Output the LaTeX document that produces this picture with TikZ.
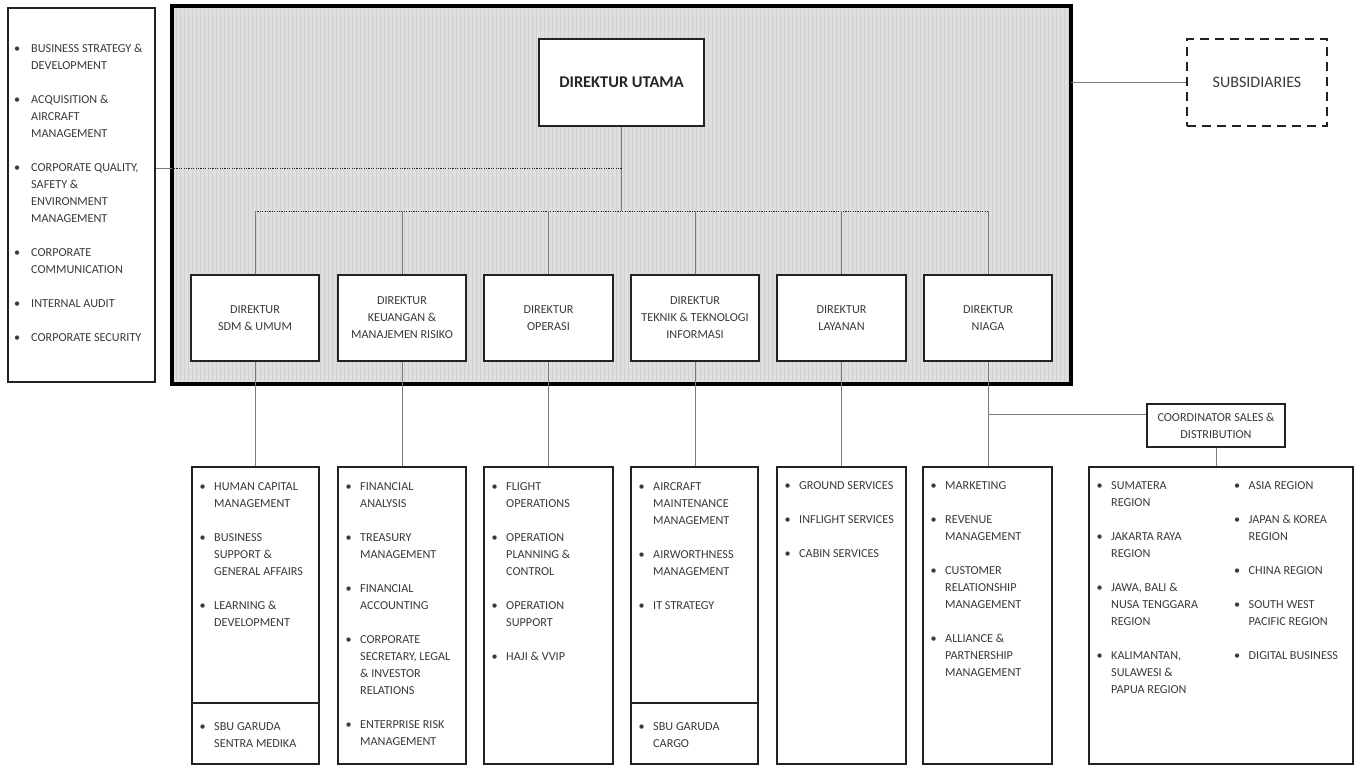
\documentclass[tikz,border=0pt]{standalone}
\usepackage{fontspec}
\setmainfont{Carlito}
\definecolor{txt}{HTML}{3A3A3A}
\definecolor{ln}{HTML}{7A7A7A}
\definecolor{bd}{HTML}{222222}
\definecolor{shade}{HTML}{DFDFDF}
\definecolor{stripe}{HTML}{D0D0D0}
\newcommand{\bu}{\makebox[14.5pt][l]{\textbullet}}
\newcommand{\bul}{\makebox[17pt][l]{\textbullet}}
\tikzset{
  box/.style={draw=bd, line width=1.2pt, fill=white, rectangle, inner sep=0pt, text=txt,
    font=\fontsize{12.2}{17}\selectfont, align=center},
  listbox/.style={draw=bd, line width=1.2pt, fill=white, rectangle, inner sep=0pt},
  conn/.style={draw=ln, line width=0.9pt},
  dotline/.style={draw=black!85, line width=1pt, dash pattern=on 1.2pt off 1.2pt},
  listtxt/.style={anchor=base west, inner sep=0pt, text=txt, font=\fontsize{12.2}{17}\selectfont},
}
\begin{document}
\begin{tikzpicture}[x=1pt,y=-1pt]
\useasboundingbox (0,0) rectangle (1362,766);
\fill[white] (0,0) rectangle (1362,766);

% main shaded box
\node[draw=black, line width=2.8pt, fill=shade, minimum width=897, minimum height=376, inner sep=0pt] (mb) at (621.5,195) {};
\begin{scope}
\clip (mb.south west) rectangle (mb.north east);
\foreach \x in {176,180,...,1068}{\draw[stripe, line width=0.5pt] (\x,9) -- (\x,381);}
\end{scope}
\draw[black, line width=2.8pt] (mb.south west) rectangle (mb.north east);
% left staff box
\node[listbox, line width=1.4pt, minimum width=147, minimum height=374] (lb) at (81.5,195) {};
\node[listtxt] (lbt) at (14,52.5) {\begin{tabular}[t]{@{}l@{}l@{}}
\bul & BUSINESS STRATEGY \&\\ & DEVELOPMENT\\[17pt]
\bul & ACQUISITION \&\\ & AIRCRAFT\\ & MANAGEMENT\\[17pt]
\bul & CORPORATE QUALITY,\\ & SAFETY \&\\ & ENVIRONMENT\\ & MANAGEMENT\\[17pt]
\bul & CORPORATE\\ & COMMUNICATION\\[17pt]
\bul & INTERNAL AUDIT\\[17pt]
\bul & CORPORATE SECURITY
\end{tabular}};

% Direktur Utama
\node[box, minimum width=165, minimum height=87, font=\fontsize{16.4}{19}\selectfont\bfseries, text=black!85] (du) at (621.5,82.5) {DIREKTUR UTAMA};
% Subsidiaries
\node[draw=bd, line width=1.3pt, dash pattern=on 9pt off 6pt, fill=white, minimum width=140, minimum height=87, inner sep=0pt, text=txt, font=\fontsize{16}{19}\selectfont] (subs) at (1257,82.5) {SUBSIDIARIES};

% directors
\node[box, minimum width=128, minimum height=86] (d1) at (255,318) {DIREKTUR\\SDM \& UMUM};
\node[box, minimum width=128, minimum height=86] (d2) at (402,318) {DIREKTUR\\KEUANGAN \&\\MANAJEMEN RISIKO};
\node[box, minimum width=129, minimum height=86] (d3) at (548.5,318) {DIREKTUR\\OPERASI};
\node[box, minimum width=128, minimum height=86] (d4) at (695,318) {DIREKTUR\\TEKNIK \& TEKNOLOGI\\INFORMASI};
\node[box, minimum width=129, minimum height=86] (d5) at (841.5,318) {DIREKTUR\\LAYANAN};
\node[box, minimum width=128, minimum height=86] (d6) at (988,318) {DIREKTUR\\NIAGA};

% coordinator
\node[box, minimum width=138, minimum height=43] (coord) at (1216,425.5) {COORDINATOR SALES \&\\DISTRIBUTION};

% connectors inside main box
\coordinate (hub) at (621.5,211);
\coordinate (j1) at (621.5,168);
\draw[conn] (du.south) -- (hub);
\draw[dotline] (j1) -- (j1 -| mb.west);
\draw[conn] (j1 -| mb.west) -- (j1 -| lb.east);
\draw[dotline] (hub -| d1.north) -- (hub -| d6.north);
\foreach \i in {1,...,6}{\draw[conn] (hub -| d\i.north) -- (d\i.north);}
\draw[conn] (mb.east |- subs.west) -- (subs.west);

% bottom list boxes
\node[listbox, minimum width=127, minimum height=297] (l1) at (255.5,615.5) {};
\node[listbox, minimum width=128, minimum height=297] (l2) at (402,615.5) {};
\node[listbox, minimum width=129, minimum height=297] (l3) at (548.5,615.5) {};
\node[listbox, minimum width=127, minimum height=297] (l4) at (694.5,615.5) {};
\node[listbox, minimum width=129, minimum height=297] (l5) at (841.5,615.5) {};
\node[listbox, minimum width=129, minimum height=297] (l6) at (987.5,615.5) {};
\node[listbox, minimum width=264, minimum height=297] (l7) at (1221,615.5) {};
\draw[draw=bd, line width=1.2pt] (l1.west |- 0,703) -- (l1.east |- 0,703);
\draw[draw=bd, line width=1.2pt] (l4.west |- 0,703) -- (l4.east |- 0,703);

\foreach \i in {1,...,6}{\draw[conn] (d\i.south) -- (d\i.south |- l\i.north);}
\coordinate (j2) at (988,414);
\draw[conn] (j2) -- (j2 -| coord.west);
\draw[conn] (coord.south) -- (coord.south |- l7.north);

% list texts
\node[listtxt] (t1) at (199.5,490) {\begin{tabular}[t]{@{}l@{}l@{}}
\bu & HUMAN CAPITAL\\ & MANAGEMENT\\[17pt]
\bu & BUSINESS\\ & SUPPORT \&\\ & GENERAL AFFAIRS\\[17pt]
\bu & LEARNING \&\\ & DEVELOPMENT
\end{tabular}};
\node[listtxt] (t1b) at (199.5,730.5) {\begin{tabular}[t]{@{}l@{}l@{}}
\bu & SBU GARUDA\\ & SENTRA MEDIKA
\end{tabular}};
\node[listtxt] (t2) at (345.5,490) {\begin{tabular}[t]{@{}l@{}l@{}}
\bu & FINANCIAL\\ & ANALYSIS\\[17pt]
\bu & TREASURY\\ & MANAGEMENT\\[17pt]
\bu & FINANCIAL\\ & ACCOUNTING\\[17pt]
\bu & CORPORATE\\ & SECRETARY, LEGAL\\ & \& INVESTOR\\ & RELATIONS\\[17pt]
\bu & ENTERPRISE RISK\\ & MANAGEMENT
\end{tabular}};
\node[listtxt] (t3) at (491.5,490) {\begin{tabular}[t]{@{}l@{}l@{}}
\bu & FLIGHT\\ & OPERATIONS\\[17pt]
\bu & OPERATION\\ & PLANNING \&\\ & CONTROL\\[17pt]
\bu & OPERATION\\ & SUPPORT\\[17pt]
\bu & HAJI \& VVIP
\end{tabular}};
\node[listtxt] (t4) at (638.5,490) {\begin{tabular}[t]{@{}l@{}l@{}}
\bu & AIRCRAFT\\ & MAINTENANCE\\ & MANAGEMENT\\[17pt]
\bu & AIRWORTHNESS\\ & MANAGEMENT\\[17pt]
\bu & IT STRATEGY
\end{tabular}};
\node[listtxt] (t4b) at (638.5,730.5) {\begin{tabular}[t]{@{}l@{}l@{}}
\bu & SBU GARUDA\\ & CARGO
\end{tabular}};
\node[listtxt] (t5) at (784.5,489) {\begin{tabular}[t]{@{}l@{}l@{}}
\bu & GROUND SERVICES\\[17pt]
\bu & INFLIGHT SERVICES\\[17pt]
\bu & CABIN SERVICES
\end{tabular}};
\node[listtxt] (t6) at (930.5,489) {\begin{tabular}[t]{@{}l@{}l@{}}
\bu & MARKETING\\[17pt]
\bu & REVENUE\\ & MANAGEMENT\\[17pt]
\bu & CUSTOMER\\ & RELATIONSHIP\\ & MANAGEMENT\\[17pt]
\bu & ALLIANCE \&\\ & PARTNERSHIP\\ & MANAGEMENT
\end{tabular}};
\node[listtxt] (t7a) at (1096.5,489) {\begin{tabular}[t]{@{}l@{}l@{}}
\bu & SUMATERA\\ & REGION\\[17pt]
\bu & JAKARTA RAYA\\ & REGION\\[17pt]
\bu & JAWA, BALI \&\\ & NUSA TENGGARA\\ & REGION\\[17pt]
\bu & KALIMANTAN,\\ & SULAWESI \&\\ & PAPUA REGION
\end{tabular}};
\node[listtxt] (t7b) at (1234,489) {\begin{tabular}[t]{@{}l@{}l@{}}
\bu & ASIA REGION\\[17pt]
\bu & JAPAN \& KOREA\\ & REGION\\[17pt]
\bu & CHINA REGION\\[17pt]
\bu & SOUTH WEST\\ & PACIFIC REGION\\[17pt]
\bu & DIGITAL BUSINESS
\end{tabular}};
\end{tikzpicture}
\end{document}
